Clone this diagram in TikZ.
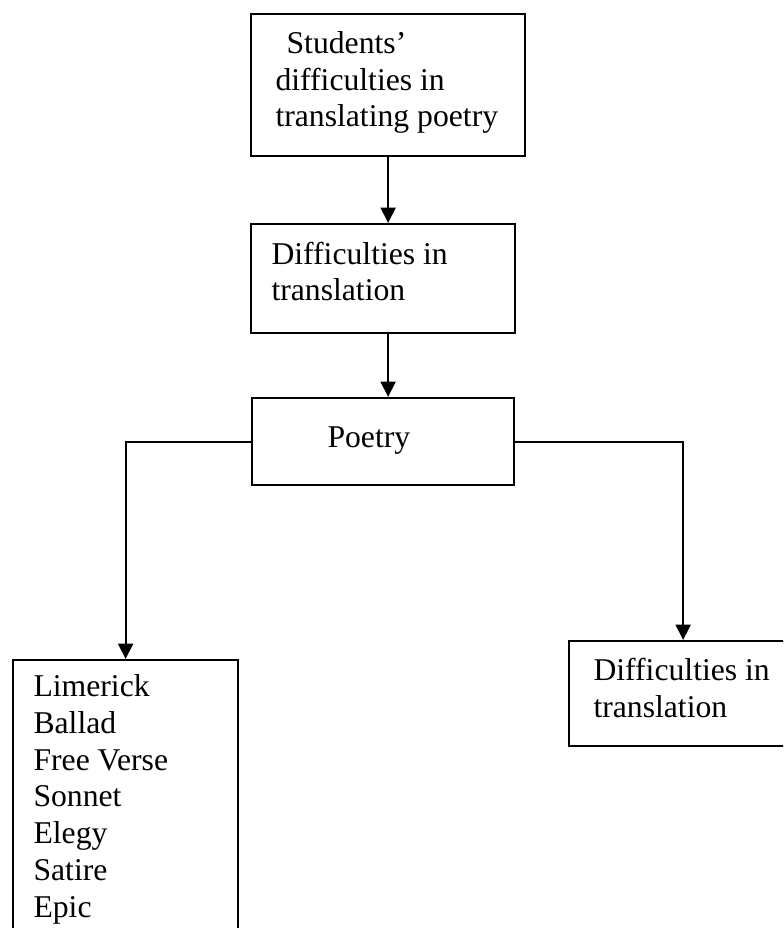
\documentclass[tikz,border=0pt]{standalone}
\usepackage{fontspec}
\setmainfont{Liberation Serif}
\usetikzlibrary{arrows.meta}

\newcommand{\pu}{0.3788pt}

\begin{document}
\begin{tikzpicture}[x=0.3788pt, y=-0.3788pt,
        box/.style={draw, line width=0.85pt, inner sep=0pt, anchor=north west},
        txt/.style={inner sep=0pt, anchor=base west, align=left, font=\fontsize{12pt}{13.9pt}\selectfont},
        arr/.style={line width=0.85pt, -{Triangle[length=5.8pt, width=5.6pt]}}]
                \clip (0,0) rectangle (783,928);

                \coordinate (T) at (250,13);
                \coordinate (M) at (250,223);
                \coordinate (P) at (251,397);
                \coordinate (F) at (12,659);
                \coordinate (R) at (568,640);

                \node [box, minimum width=274*\pu, minimum height=142*\pu] (top) at (T) {};
                \node [box, minimum width=264*\pu, minimum height=109*\pu] (mid) at (M) {};
                \node [box, minimum width=262*\pu, minimum height=87*\pu] (poetry) at (P) {};
                \node [box, minimum width=225*\pu, minimum height=300*\pu] (forms) at (F) {};
                \node [box, minimum width=228*\pu, minimum height=105*\pu] (trans) at (R) {};

                % base west of a multi-line text is its last line
                \node [txt] (topText) at (275,127) {\hspace{4.2pt}Students'\\difficulties in\\translating poetry};
                \node [txt] (midText) at (271,301) {Difficulties in\\translation};
                \node [txt] (poetryText) at (327,447) {Poetry};
                \node [txt] (formsText) at (33,917) {Limerick\\Ballad\\Free Verse\\Sonnet\\Elegy\\Satire\\Epic};
                \node [txt] (transText) at (593,717) {Difficulties in\\translation};

                \draw[arr] (top.south) -- (top.south |- mid.north);
                \draw[arr] (top.south |- mid.south) -- (top.south |- poetry.north);
                \draw[arr] (poetry.west) -| (forms.north);
                \draw[arr] (poetry.east) -| (trans.north);

\end{tikzpicture}
\end{document}
